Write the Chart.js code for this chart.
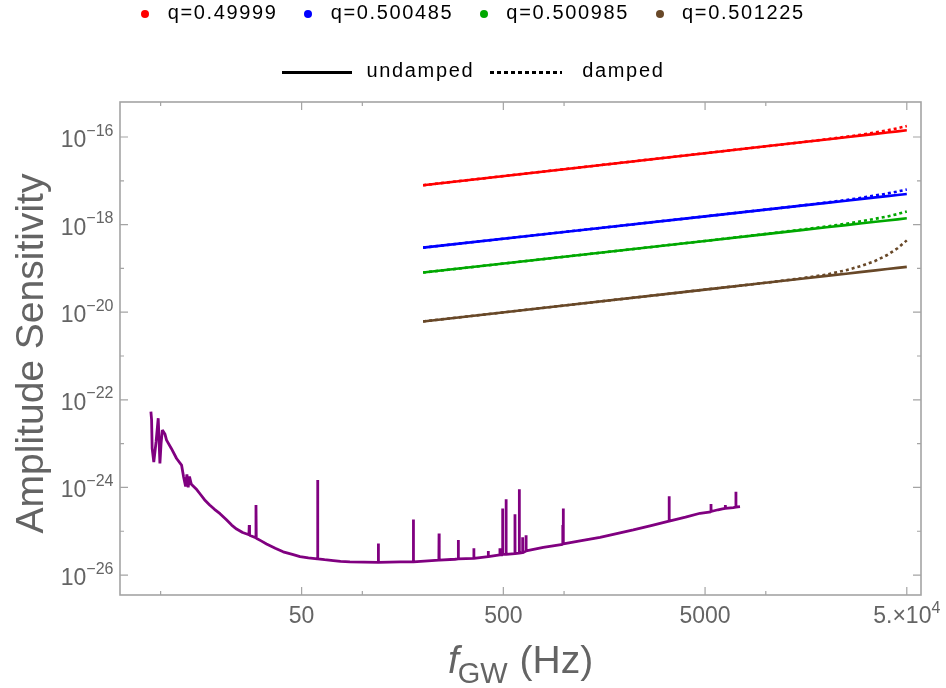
<!DOCTYPE html>
<html>
<head>
<meta charset="utf-8">
<title>Amplitude sensitivity</title>
<script src="https://cdn.jsdelivr.net/npm/chart.js@4.4.1/dist/chart.umd.min.js"></script>
<style>
    body { margin: 0; background: #fff; }
    .wrap { position: relative; width: 946px; height: 688px; }
    .legendRow {
        position: absolute; left: 0; width: 946px;
        display: flex; justify-content: center; align-items: center;
        font: 20px "Liberation Sans", Arial, sans-serif; line-height: 20px;
        letter-spacing: 1.65px; color: #000; white-space: nowrap;
    }
    .row1 { top: 2.4px; }
    .row2 { top: 59.8px; }
    .qItem { display: flex; align-items: center; margin-right: 26.5px; }
    .qItem:last-child { margin-right: 0; }
    .dot { width: 8px; height: 8px; border-radius: 50%; margin-right: 18.5px; position: relative; top: 1.6px; }
    .sample { height: 3px; position: relative; top: 3px; }
    .solid { width: 70px; background: #000; margin-right: 15px; }
    .dotted { width: 72px; margin-left: 16px; margin-right: 20px;
        background: repeating-linear-gradient(90deg, #000 0 4px, transparent 4px 7px); }
</style>
</head>
<body>
<div class="wrap">
    <canvas id="chart" width="946" height="688"></canvas>
    <div class="legendRow row1" id="qLegend"></div>
    <div class="legendRow row2">
        <div class="sample solid"></div><span>undamped</span>
        <div class="sample dotted"></div><span>damped</span>
    </div>
</div>
<script>
// mass ratios and their colours
const qLabels = ["q=0.49999", "q=0.500485", "q=0.500985", "q=0.501225"];
const qColors = ["#ff0000", "#0000ff", "#00a800", "#684828"];

// frequencies (Hz) for the strain curves, values are log10(h)
const qFreq = [200, 1000, 5000, 10000, 15000, 20000, 25000, 30000, 35000, 40000, 45000, 50000];
const undampedLog = [
    [-17.10, -16.735, -16.369, -16.212, -16.120, -16.055, -16.005, -15.963, -15.928, -15.897, -15.871, -15.847],
    [-18.525, -18.168, -17.811, -17.657, -17.567, -17.503, -17.454, -17.413, -17.379, -17.349, -17.323, -17.300],
    [-19.095, -18.734, -18.373, -18.217, -18.126, -18.062, -18.012, -17.970, -17.936, -17.906, -17.880, -17.856],
    [-20.21, -19.847, -19.484, -19.327, -19.236, -19.171, -19.121, -19.079, -19.045, -19.014, -18.988, -18.964]
];
const dampedLog = [
    [-17.10, -16.735, -16.369, -16.212, -16.120, -16.052, -15.995, -15.945, -15.895, -15.848, -15.800, -15.750],
    [-18.525, -18.168, -17.811, -17.657, -17.565, -17.495, -17.440, -17.385, -17.335, -17.290, -17.245, -17.200],
    [-19.095, -18.734, -18.373, -18.212, -18.115, -18.042, -17.980, -17.920, -17.865, -17.815, -17.760, -17.700],
    [-20.21, -19.847, -19.484, -19.327, -19.226, -19.141, -19.041, -18.939, -18.825, -18.694, -18.540, -18.360]
];

// detector noise curve: frequency (Hz) and log10 of the amplitude sensitivity
const noiseFreq = [8.95, 9.02, 9.08, 9.25, 9.5, 9.73, 9.82, 9.92, 10.05, 10.2, 10.5, 10.7, 11.3, 12.0, 12.7,
    13.0, 13.3, 13.5, 13.7, 13.9, 14.2, 15.1, 15.7, 16.5, 17.5, 18.5, 19.7, 21.2, 22.5, 23.8, 25.5,
    27.4, 27.5, 27.6, 29.6, 29.7, 29.8, 31.5, 33.5, 37, 40.5, 45, 49.1, 54, 59.8, 60.0, 60.2, 65, 71.8, 78, 86.8,
    119.7, 120.0, 120.3, 154, 178.6, 179.0, 179.4,
    239.5, 240.0, 240.5, 288, 298.5, 299.0, 299.5, 356.5, 357.0, 357.5, 420.5, 421.0, 421.5,
    480.5, 481.0, 481.5, 495.5, 496.0, 496.5, 515.5, 516.0, 516.5, 570.5, 571.0, 571.5,
    599.5, 600.0, 600.5, 622.5, 623.0, 623.5, 647.5, 648.0, 648.5, 789, 984, 985, 986, 990, 991, 992,
    1200, 1507, 1800, 2204, 2700, 3314, 3318, 3322, 4000, 4724, 5345, 5350, 5355, 5800, 6100, 6295, 6300, 6305,
    6900, 7105, 7110, 7115, 7450];
const noiseLog = [-22.27, -22.45, -23.11, -23.42, -22.95, -22.42, -22.9, -23.45, -23.0, -22.69, -22.78, -22.92, -23.11, -23.34, -23.49,
    -23.76, -23.98, -23.70, -24.00, -23.75, -23.93, -24.05, -24.15, -24.28, -24.40, -24.50, -24.60, -24.74, -24.86, -24.95, -25.03,
    -25.08, -24.86, -25.09, -25.15, -24.40, -25.16, -25.22, -25.29, -25.39, -25.47, -25.53, -25.58, -25.61, -25.63, -23.83, -25.63, -25.65, -25.67, -25.69, -25.70,
    -25.71, -25.28, -25.71, -25.70, -25.70, -24.73, -25.70,
    -25.66, -25.05, -25.66, -25.64, -25.63, -25.20, -25.63, -25.62, -25.39, -25.62, -25.58, -25.45, -25.58,
    -25.54, -25.39, -25.54, -25.54, -24.48, -25.53, -25.53, -24.27, -25.53, -25.51, -24.61, -25.51,
    -25.50, -24.04, -25.50, -25.49, -25.14, -25.49, -25.45, -25.09, -25.45, -25.37, -25.30, -24.86, -25.30, -25.29, -24.48, -25.29,
    -25.22, -25.14, -25.06, -24.97, -24.87, -24.77, -24.20, -24.77, -24.68, -24.59, -24.56, -24.38, -24.55, -24.51, -24.49, -24.48, -24.40, -24.48,
    -24.46, -24.45, -24.10, -24.45, -24.44];

// axis ticks and their labels
const xMajor = [50, 500, 5000, 50000];
const xMinor = [10, 100, 1000, 10000];
const xTickText = ["50", "500", "5000", "5.\u00d710"];
const xTickSup = ["", "", "", "4"];
const yMajor = [1e-16, 1e-18, 1e-20, 1e-22, 1e-24, 1e-26];
const yMinor = [1e-17, 1e-19, 1e-21, 1e-23, 1e-25];
const yTickText = ["10", "10", "10", "10", "10", "10"];
const yTickSup = ["\u221216", "\u221218", "\u221220", "\u221222", "\u221224", "\u221226"];

const frameColor = "#a4a4a4";
const labelColor = "#646464";
const tickFont = '23px "Liberation Sans", Arial, sans-serif';
const supFont = '16px "Liberation Sans", Arial, sans-serif';
const titleFont = '39px "Liberation Sans", Arial, sans-serif';

const toPoints = (xs, logs) => xs.map((f, i) => ({ x: f, y: Math.pow(10, logs[i]) }));

const buildLegend = function() {
    const box = document.getElementById("qLegend");
    qLabels.forEach((lab, i) => {
        const item = document.createElement("div");
        item.className = "qItem";
        const dot = document.createElement("div");
        dot.className = "dot";
        dot.style.background = qColors[i];
        const txt = document.createElement("span");
        txt.textContent = lab;
        item.appendChild(dot);
        item.appendChild(txt);
        box.appendChild(item);
    });
};

// label made of a base string plus a raised exponent
const drawSupLabel = function(ctx, base, sup, left, baseline, supRaise) {
    ctx.font = tickFont;
    ctx.fillText(base, left, baseline);
    const bw = ctx.measureText(base).width;
    if (sup) {
        ctx.font = supFont;
        ctx.fillText(sup, left + bw, baseline - supRaise);
    }
};
const supLabelWidth = function(ctx, base, sup) {
    ctx.font = tickFont;
    let w = ctx.measureText(base).width;
    if (sup) { ctx.font = supFont; w += ctx.measureText(sup).width; }
    return w;
};

// Mathematica-like frame: inward ticks on all four sides, labels left/bottom
const framePlugin = {
    id: "frameAxes",
    afterDraw(chart) {
        const { ctx, chartArea: a, scales: { x, y } } = chart;
        ctx.save();
        ctx.strokeStyle = frameColor;
        ctx.lineWidth = 1.6;
        ctx.strokeRect(a.left, a.top, a.right - a.left, a.bottom - a.top);

        ctx.lineWidth = 1.2;
        ctx.beginPath();
        const xTick = (v, len) => {
            const px = x.getPixelForValue(v);
            ctx.moveTo(px, a.bottom); ctx.lineTo(px, a.bottom - len);
            ctx.moveTo(px, a.top); ctx.lineTo(px, a.top + len);
        };
        const yTick = (v, len) => {
            const py = y.getPixelForValue(v);
            ctx.moveTo(a.left, py); ctx.lineTo(a.left + len, py);
            ctx.moveTo(a.right, py); ctx.lineTo(a.right - len, py);
        };
        xMajor.forEach(v => xTick(v, 8));
        xMinor.forEach(v => xTick(v, 4));
        yMajor.forEach(v => yTick(v, 8));
        yMinor.forEach(v => yTick(v, 4));
        ctx.stroke();

        ctx.fillStyle = labelColor;
        ctx.textBaseline = "alphabetic";
        ctx.textAlign = "left";
        xMajor.forEach((v, i) => {
            const px = x.getPixelForValue(v);
            const w = supLabelWidth(ctx, xTickText[i], xTickSup[i]);
            drawSupLabel(ctx, xTickText[i], xTickSup[i], px - w / 2, a.bottom + 28, 10);
        });
        yMajor.forEach((v, i) => {
            const py = y.getPixelForValue(v);
            const w = supLabelWidth(ctx, yTickText[i], yTickSup[i]);
            drawSupLabel(ctx, yTickText[i], yTickSup[i], a.left - 6.5 - w, py + 10, 11.5);
        });

        // axis titles
        ctx.font = titleFont;
        ctx.save();
        ctx.translate(43, (a.top + a.bottom) / 2 + 5);
        ctx.rotate(-Math.PI / 2);
        ctx.textAlign = "center";
        ctx.fillText("Amplitude Sensitivity", 0, 0);
        ctx.restore();

        const fFont = 'italic 39px "Liberation Sans", Arial, sans-serif';
        const subFont = '29px "Liberation Sans", Arial, sans-serif';
        ctx.font = fFont; const fw = ctx.measureText("f").width;
        ctx.font = subFont; const gw = ctx.measureText("GW").width;
        ctx.font = titleFont; const hw = ctx.measureText(" (Hz)").width;
        let tx = (a.left + a.right) / 2 - (fw + gw + hw) / 2;
        const tb = 673;
        ctx.font = fFont; ctx.fillText("f", tx, tb); tx += fw;
        ctx.font = subFont; ctx.fillText("GW", tx - 1, tb + 9.5); tx += gw;
        ctx.font = titleFont; ctx.fillText(" (Hz)", tx, tb);
        ctx.restore();
    }
};

const buildChart = function() {
    const datasets = [];
    qLabels.forEach((lab, i) => {
        datasets.push({
            label: lab + " damped",
            data: toPoints(qFreq, dampedLog[i]),
            borderColor: qColors[i],
            borderWidth: 2.6,
            borderDash: [3, 3],
            order: 0
        });
        datasets.push({
            label: lab + " undamped",
            data: toPoints(qFreq, undampedLog[i]),
            borderColor: qColors[i],
            borderWidth: 2.6,
            order: 1
        });
    });
    datasets.push({
        label: "detector noise",
        data: toPoints(noiseFreq, noiseLog),
        borderColor: "#800080",
        borderWidth: 2.8,
        borderJoinStyle: "bevel",
        order: 2
    });

    new Chart(document.getElementById("chart").getContext("2d"), {
        type: "line",
        data: { datasets: datasets },
        options: {
            responsive: false,
            animation: false,
            devicePixelRatio: 1,
            layout: { padding: { left: 120, top: 102, right: 25, bottom: 93 } },
            elements: { point: { radius: 0 }, line: { tension: 0, fill: false } },
            plugins: { legend: { display: false }, tooltip: { enabled: false } },
            scales: {
                x: { type: "logarithmic", display: false, min: 6.29, max: 58800 },
                y: { type: "logarithmic", display: false, min: 3.5e-27, max: 6.3e-16 }
            }
        },
        plugins: [framePlugin]
    });
};

buildLegend();
buildChart();
</script>
</body>
</html>
